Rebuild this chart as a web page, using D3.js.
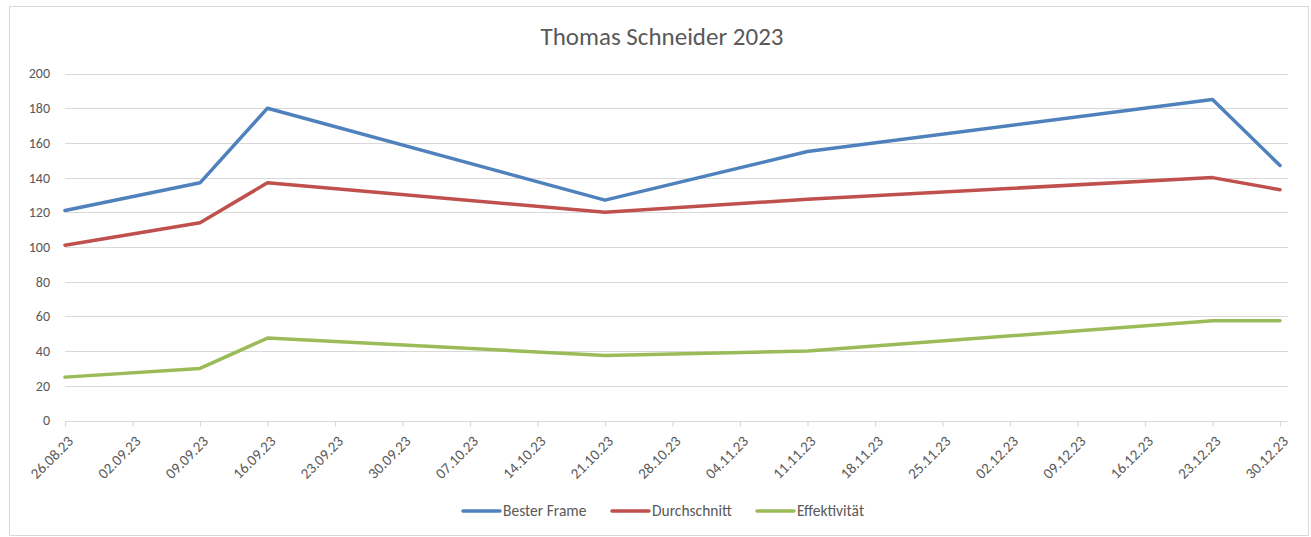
<!doctype html>
<html>
<head>
<meta charset="utf-8">
<style>
  body { margin: 0; background: #fff; }
  text { font-family: Calibri, Carlito, Lato, "Open Sans", sans-serif; fill: #595959; }
</style>
<script src="https://d3js.org/d3.v7.min.js"></script>
</head>
<body>
<svg width="1311" height="537"></svg>
<script>
// data
var dates = ["26.08.23", "09.09.23", "16.09.23", "21.10.23", "11.11.23", "23.12.23", "30.12.23"];
var besterFrame = [121, 137, 180, 127, 155, 185, 147];
var durchschnitt = [101, 114, 137, 120, 127.5, 140, 133];
var effektivitaet = [25, 30, 47.5, 37.5, 40, 57.5, 57.5];
var xTickLabels = ["26.08.23", "02.09.23", "09.09.23", "16.09.23", "23.09.23", "30.09.23", "07.10.23",
  "14.10.23", "21.10.23", "28.10.23", "04.11.23", "11.11.23", "18.11.23", "25.11.23", "02.12.23",
  "09.12.23", "16.12.23", "23.12.23", "30.12.23"];
var yTicks = [0, 20, 40, 60, 80, 100, 120, 140, 160, 180, 200];

var parse = d3.timeParse("%d.%m.%y");

var series = [
  { name: "Bester Frame", values: besterFrame, color: "#4f81bd" },
  { name: "Durchschnitt", values: durchschnitt, color: "#c0504d" },
  { name: "Effektivität", values: effektivitaet, color: "#9bbb59" }
];

var svg = d3.select("svg");

// outer chart border
svg.append("rect")
   .attr("x", 9.5).attr("y", 6.5)
   .attr("width", 1299).attr("height", 529)
   .attr("fill", "none")
   .attr("stroke", "#d9d9d9");

var x = d3.scaleTime()
    .domain([parse(xTickLabels[0]), parse(xTickLabels[xTickLabels.length - 1])])
    .range([65, 1280]);
var y = d3.scaleLinear().domain([0, 200]).range([420.5, 73.5]);

svg.append("text")
   .attr("x", 662).attr("y", 45)
   .attr("text-anchor", "middle")
   .attr("font-size", "25px")
   .text("Thomas Schneider 2023");

// gridlines
svg.append("g").selectAll("line")
   .data(yTicks).enter()
   .append("line")
   .attr("x1", 65).attr("x2", 1288)
   .attr("y1", function(d) { return Math.round(y(d)) + 0.5; })
   .attr("y2", function(d) { return Math.round(y(d)) + 0.5; })
   .attr("stroke", "#d9d9d9")
   .attr("stroke-width", 1.2);

// y labels
svg.append("g").selectAll("text")
   .data(yTicks).enter()
   .append("text")
   .attr("x", 50)
   .attr("y", function(d) { return y(d); })
   .attr("dy", "0.35em")
   .attr("text-anchor", "end")
   .attr("font-size", "14px")
   .text(function(d) { return d; });

// x axis
var xAxis = svg.append("g")
   .attr("transform", "translate(0," + (Math.round(y(0)) + 0.5) + ")")
   .call(d3.axisBottom(x)
     .tickValues(xTickLabels.map(parse))
     .tickSize(5)
     .tickFormat(d3.timeFormat("%d.%m.%y")));
xAxis.select(".domain").remove();
xAxis.selectAll(".tick line").attr("stroke", "#d9d9d9").attr("stroke-width", 1.2);
xAxis.selectAll(".tick text")
   .attr("font-size", "15px")
   .attr("font-family", "Calibri, Carlito, Lato, sans-serif")
   .attr("fill", "#595959")
   .attr("text-anchor", "end")
   .attr("transform", "translate(5,17) rotate(-45)")
   .attr("x", 0).attr("y", 0).attr("dy", "0.35em");
xAxis.append("line")
   .attr("x1", 65).attr("x2", 1288)
   .attr("stroke", "#d9d9d9").attr("stroke-width", 1.2);

// lines
var line = d3.line()
   .x(function(d, i) { return x(parse(dates[i])); })
   .y(function(d) { return y(d); });

svg.append("g").selectAll("path")
   .data(series).enter()
   .append("path")
   .attr("d", function(s) { return line(s.values); })
   .attr("fill", "none")
   .attr("stroke", function(s) { return s.color; })
   .attr("stroke-width", 3.5)
   .attr("stroke-linejoin", "round")
   .attr("stroke-linecap", "round");

// legend
var legendX = [463, 612, 757];
var legend = svg.append("g").selectAll("g")
   .data(series).enter()
   .append("g")
   .attr("transform", function(s, i) { return "translate(" + legendX[i] + ",511)"; });
legend.append("line")
   .attr("x1", 0).attr("x2", 37)
   .attr("stroke", function(s) { return s.color; })
   .attr("stroke-width", 3.5)
   .attr("stroke-linecap", "round");
legend.append("text")
   .attr("x", 40).attr("dy", "0.35em")
   .attr("font-size", "15.5px")
   .text(function(s) { return s.name; });
</script>
</body>
</html>
